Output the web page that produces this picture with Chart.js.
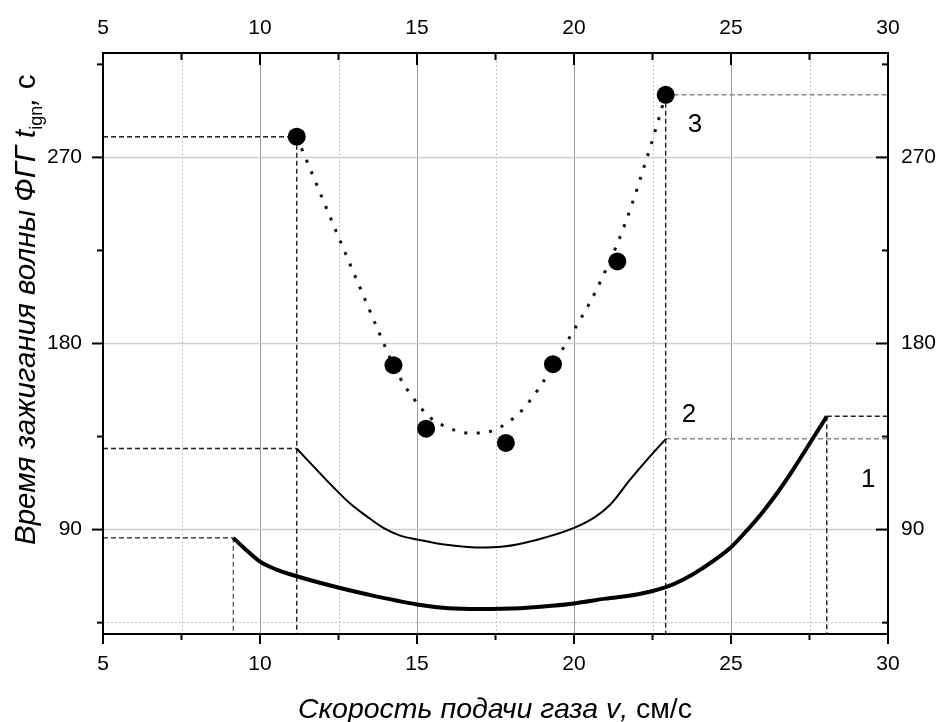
<!DOCTYPE html>
<html>
<head>
<meta charset="utf-8">
<script src="https://cdn.jsdelivr.net/npm/chart.js@4.4.0/dist/chart.umd.min.js"></script>
<style>
  html, body { margin: 0; padding: 0; background: #fff; }
</style>
</head>
<body>
<canvas id="ign-chart" width="940" height="722"></canvas>
<script>
// axis ranges and ticks
const xRange = [5, 30];
const yRange = [39.5, 320.5];
const xTicks = [5, 10, 15, 20, 25, 30];
const xMinorTicks = [7.5, 12.5, 17.5, 22.5, 27.5];
const yTicks = [90, 180, 270];
const yMinorTicks = [45, 135, 225, 315];

// curve 1 (thick)
const curve1V = [9.15, 9.5, 10.0, 10.5, 11.2, 12.3, 13.4, 15.0, 16.0, 17.0, 18.3, 19.2, 20.0, 21.0, 22.0, 22.9, 23.5, 24.1, 25.0, 25.5, 26.0, 26.5, 27.0, 27.5, 28.05];
const curve1T = [86.0, 81.0, 74.5, 70.8, 67.3, 62.7, 58.7, 53.8, 52.0, 51.6, 52.0, 53.0, 54.3, 56.6, 58.6, 62.0, 66.0, 71.4, 81.5, 89.5, 98.3, 108.3, 119.5, 131.5, 144.8];

// curve 2 (thin)
const curve2V = [11.17, 11.8, 12.33, 12.87, 13.4, 13.93, 14.46, 15.0, 16.0, 16.9, 17.75, 18.8, 20.0, 20.7, 21.15, 21.78, 22.42, 22.93];
const curve2T = [129.2, 119.0, 110.6, 102.6, 96.4, 90.8, 87.1, 85.2, 82.5, 81.3, 81.8, 85.0, 90.8, 96.4, 102.0, 114.0, 125.4, 133.9];

// series 3: measured points
const pointV = [11.17, 14.25, 15.29, 17.83, 19.33, 21.38, 22.92];
const pointT = [280.0, 169.5, 138.8, 131.9, 170.0, 219.7, 300.3];

// series 3: dotted trend
const trendV = [11.17, 11.8, 12.5, 13.2, 13.8, 14.25, 14.56, 14.83, 15.1, 15.47, 15.84, 16.26, 16.63, 17.04, 17.43, 17.83, 18.23, 18.58, 19.0, 19.33, 19.9, 20.5, 20.88, 21.4, 21.84, 22.21, 22.46, 22.69, 22.92];
const trendT = [280.0, 257.0, 231.5, 206.5, 185.0, 169.5, 160.7, 154.7, 149.3, 143.5, 140.3, 137.8, 136.7, 136.7, 138.0, 141.2, 146.0, 152.0, 161.0, 169.5, 184.0, 199.6, 211.2, 229.0, 247.0, 264.5, 276.4, 288.2, 300.3];

const FONT = '"Liberation Sans", Arial, sans-serif';

function pts(xs, ys) {
  return xs.map((x, i) => ({ x: x, y: ys[i] }));
}

function guide(a, b, color) {
  return {
    data: [a, b],
    borderColor: color,
    borderWidth: 1.4,
    borderDash: [5, 3],
    pointRadius: 0,
    fill: false,
    order: 5
  };
}

const c1Start = { x: curve1V[0], y: curve1T[0] };
const c1End = { x: curve1V[curve1V.length - 1], y: curve1T[curve1T.length - 1] };
const c2Start = { x: curve2V[0], y: curve2T[0] };
const c2End = { x: curve2V[curve2V.length - 1], y: curve2T[curve2T.length - 1] };
const p3First = { x: pointV[0], y: pointT[0] };
const p3Last = { x: pointV[pointV.length - 1], y: pointT[pointT.length - 1] };

const datasets = [
  {
    data: pts(pointV, pointT),
    showLine: false,
    pointRadius: 9,
    pointBackgroundColor: '#000',
    pointBorderWidth: 0,
    order: 0
  },
  {
    data: pts(trendV, trendT),
    borderColor: '#111',
    borderWidth: 3,
    borderDash: [3, 9.5],
    borderCapStyle: 'butt',
    pointRadius: 0,
    cubicInterpolationMode: 'monotone',
    order: 1
  },
  {
    data: pts(curve1V, curve1T),
    borderColor: '#000',
    borderWidth: 4,
    pointRadius: 0,
    cubicInterpolationMode: 'monotone',
    order: 2
  },
  {
    data: pts(curve2V, curve2T),
    borderColor: '#000',
    borderWidth: 2,
    pointRadius: 0,
    cubicInterpolationMode: 'monotone',
    order: 2
  },
  // reference lines to the axes
  guide({ x: xRange[0], y: p3First.y }, p3First, '#222'),
  guide(p3First, { x: p3First.x, y: yRange[0] }, '#222'),
  guide({ x: xRange[0], y: c2Start.y }, c2Start, '#222'),
  guide({ x: xRange[0], y: c1Start.y }, c1Start, '#222'),
  guide(c1Start, { x: c1Start.x, y: yRange[0] }, '#666'),
  guide(p3Last, { x: xRange[1], y: p3Last.y }, '#888'),
  guide(p3Last, { x: p3Last.x, y: yRange[0] }, '#222'),
  guide(c2End, { x: xRange[1], y: c2End.y }, '#888'),
  guide(c1End, { x: xRange[1], y: c1End.y }, '#222'),
  guide(c1End, { x: c1End.x, y: yRange[0] }, '#222'),
  // dotted line at 45
  {
    data: [{ x: xRange[0], y: yMinorTicks[0] }, { x: xRange[1], y: yMinorTicks[0] }],
    borderColor: '#bdbdbd',
    borderWidth: 1,
    borderDash: [2, 2],
    pointRadius: 0,
    order: 9
  }
];

// grid, frame, ticks and texts
const framePlugin = {
  id: 'frame',
  beforeDatasetsDraw(chart) {
    const { ctx, chartArea: a, scales } = chart;
    ctx.save();
    ctx.lineWidth = 1;
    ctx.strokeStyle = '#c4c4c4';
    ctx.setLineDash([2, 2]);
    xMinorTicks.forEach(v => {
      const x = Math.round(scales.x.getPixelForValue(v)) + 0.5;
      ctx.beginPath(); ctx.moveTo(x, a.top); ctx.lineTo(x, a.bottom); ctx.stroke();
    });
    ctx.setLineDash([]);
    ctx.strokeStyle = '#9a9a9a';
    xTicks.slice(1, -1).forEach(v => {
      const x = Math.round(scales.x.getPixelForValue(v)) + 0.5;
      ctx.beginPath(); ctx.moveTo(x, a.top); ctx.lineTo(x, a.bottom); ctx.stroke();
    });
    ctx.strokeStyle = '#cfcfcf';
    ctx.lineWidth = 1.5;
    yTicks.forEach(v => {
      const y = scales.y.getPixelForValue(v);
      ctx.beginPath(); ctx.moveTo(a.left, y); ctx.lineTo(a.right, y); ctx.stroke();
    });
    ctx.restore();
  },
  afterDatasetsDraw(chart) {
    const { ctx, chartArea: a, scales } = chart;
    ctx.save();
    ctx.strokeStyle = '#000';
    ctx.lineWidth = 2;
    ctx.strokeRect(a.left, a.top, a.right - a.left, a.bottom - a.top);

    const seg = (x1, y1, x2, y2) => {
      ctx.beginPath(); ctx.moveTo(x1, y1); ctx.lineTo(x2, y2); ctx.stroke();
    };
    xTicks.forEach(v => {
      const x = scales.x.getPixelForValue(v);
      seg(x, a.bottom, x, a.bottom + 10);
      seg(x, a.top, x, a.top + 12);
    });
    xMinorTicks.forEach(v => {
      const x = scales.x.getPixelForValue(v);
      seg(x, a.bottom, x, a.bottom + 6);
      seg(x, a.top, x, a.top + 7);
    });
    yTicks.forEach(v => {
      const y = scales.y.getPixelForValue(v);
      seg(a.left - 11, y, a.left, y);
      seg(a.right - 12, y, a.right, y);
    });
    yMinorTicks.forEach(v => {
      const y = scales.y.getPixelForValue(v);
      seg(a.left - 6, y, a.left, y);
      seg(a.right - 6, y, a.right, y);
    });

    // curve numbers
    ctx.fillStyle = '#000';
    ctx.font = '26px ' + FONT;
    ctx.textAlign = 'center';
    ctx.textBaseline = 'middle';
    [['1', 29.37, 114.2], ['2', 23.66, 145.6], ['3', 23.85, 285.8]].forEach(([t, v, s]) => {
      ctx.fillText(t, scales.x.getPixelForValue(v), scales.y.getPixelForValue(s));
    });
    ctx.restore();
  },
  afterDraw(chart) {
    const { ctx } = chart;
    ctx.save();
    ctx.fillStyle = '#000';
    ctx.textBaseline = 'alphabetic';
    ctx.textAlign = 'left';

    const drawRun = (parts) => {
      let x = 0;
      parts.forEach(p => {
        ctx.font = p.font;
        ctx.fillText(p.text, x, p.dy || 0);
        x += ctx.measureText(p.text).width;
      });
      return x;
    };
    const runWidth = (parts) => parts.reduce((w, p) => {
      ctx.font = p.font;
      return w + ctx.measureText(p.text).width;
    }, 0);

    // x axis title
    const xParts = [
      { text: 'Скорость подачи газа ', font: 'italic 28.5px ' + FONT },
      { text: 'v', font: 'italic 28.5px ' + FONT },
      { text: ', ', font: 'italic 28.5px ' + FONT },
      { text: 'см/с', font: '28.5px ' + FONT }
    ];
    const xw = runWidth(xParts);
    ctx.save();
    ctx.translate(495 - xw / 2, 718);
    drawRun(xParts);
    ctx.restore();

    // y axis title, rotated
    const yParts = [
      { text: 'Время зажигания волны ФГГ ', font: 'italic 29.5px ' + FONT },
      { text: 't', font: 'italic 29.5px ' + FONT },
      { text: 'ign', font: '18px ' + FONT, dy: 7 },
      { text: ', ', font: 'italic 29.5px ' + FONT },
      { text: 'с', font: '29.5px ' + FONT }
    ];
    ctx.save();
    ctx.translate(35, 545);
    ctx.rotate(-Math.PI / 2);
    drawRun(yParts);
    ctx.restore();
    ctx.restore();
  }
};

const tickFont = { family: FONT, size: 21 };
const fixedTicks = (vals) => (scale) => {
  scale.ticks = vals.map(v => ({ value: v }));
};

new Chart(document.getElementById('ign-chart'), {
  type: 'line',
  data: { datasets: datasets },
  options: {
    responsive: false,
    animation: false,
    events: [],
    layout: { padding: 0 },
    plugins: {
      legend: { display: false },
      tooltip: { enabled: false }
    },
    scales: {
      x: {
        type: 'linear', position: 'bottom', min: xRange[0], max: xRange[1],
        afterBuildTicks: fixedTicks(xTicks),
        afterFit: (s) => { s.height = 88; },
        grid: { display: false, drawTicks: false },
        border: { display: false },
        ticks: { font: tickFont, color: '#000', padding: 18, maxRotation: 0 }
      },
      x2: {
        type: 'linear', position: 'top', min: xRange[0], max: xRange[1],
        afterBuildTicks: fixedTicks(xTicks),
        afterFit: (s) => { s.height = 53; },
        grid: { display: false, drawTicks: false },
        border: { display: false },
        ticks: { font: tickFont, color: '#000', padding: 12, maxRotation: 0 }
      },
      y: {
        type: 'linear', position: 'left', min: yRange[0], max: yRange[1],
        afterBuildTicks: fixedTicks(yTicks),
        afterFit: (s) => { s.width = 103; },
        grid: { display: false, drawTicks: false },
        border: { display: false },
        ticks: { font: tickFont, color: '#000', padding: 21 }
      },
      y2: {
        type: 'linear', position: 'right', min: yRange[0], max: yRange[1],
        afterBuildTicks: fixedTicks(yTicks),
        afterFit: (s) => { s.width = 52; },
        grid: { display: false, drawTicks: false },
        border: { display: false },
        ticks: { font: tickFont, color: '#000', padding: 13 }
      }
    }
  },
  plugins: [framePlugin]
});
</script>
</body>
</html>
